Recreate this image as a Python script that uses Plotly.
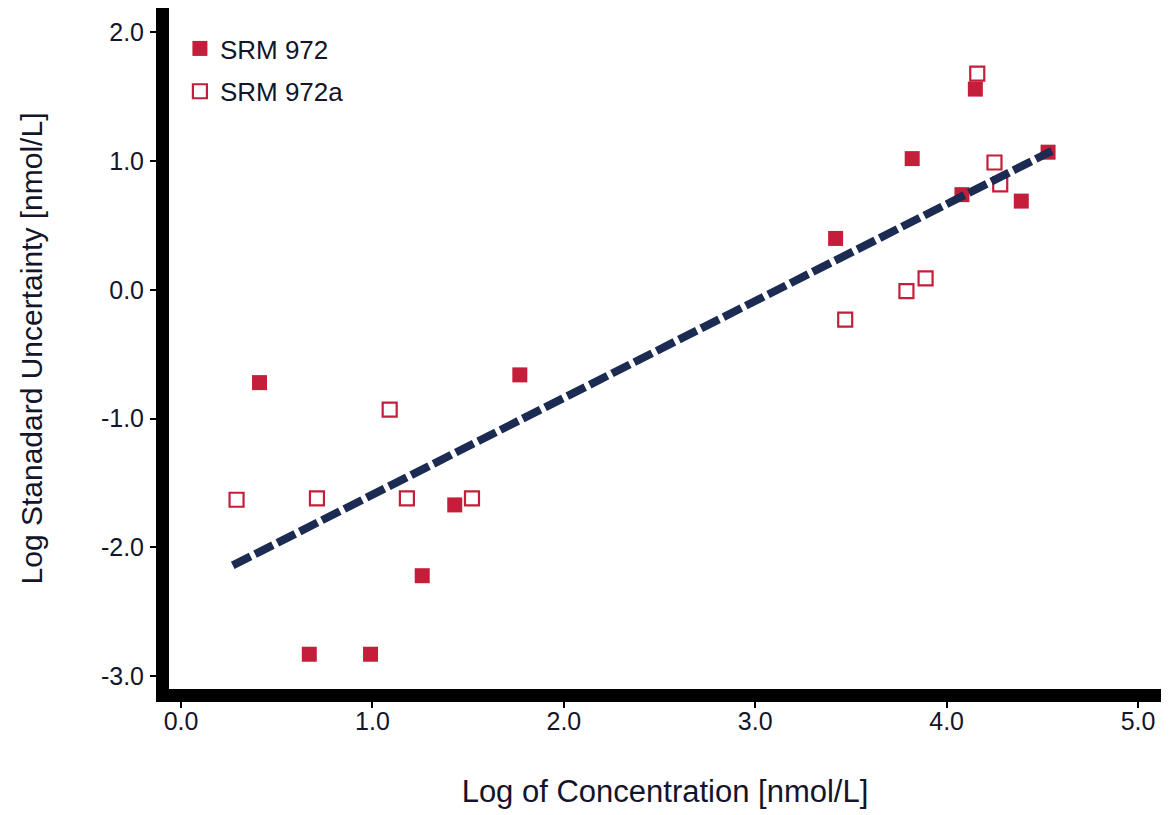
import plotly.graph_objects as go

# SRM 972 (filled)
srm972_x = [0.41, 0.67, 0.99, 1.26, 1.43, 1.77, 3.42, 3.82, 4.08, 4.15, 4.39, 4.53]
srm972_y = [-0.72, -2.83, -2.83, -2.22, -1.67, -0.66, 0.40, 1.02, 0.74, 1.56, 0.69, 1.07]

# SRM 972a (open)
srm972a_x = [0.29, 0.71, 1.09, 1.18, 1.52, 3.47, 3.79, 3.89, 4.16, 4.25, 4.28]
srm972a_y = [-1.63, -1.62, -0.93, -1.62, -1.62, -0.23, -0.01, 0.09, 1.68, 0.99, 0.82]

# Trend line end points
trend_x = [0.27, 4.55]
trend_y = [-2.14, 1.08]

x_ticks = [0.0, 1.0, 2.0, 3.0, 4.0, 5.0]
x_ticktext = ["0.0", "1.0", "2.0", "3.0", "4.0", "5.0"]
y_ticks = [-3.0, -2.0, -1.0, 0.0, 1.0, 2.0]
y_ticktext = ["-3.0", "-2.0", "-1.0", "0.0", "1.0", "2.0"]

red = "#c41e3a"
navy = "#1c2b52"
txt = "#14142a"
font_fam = "Liberation Sans, Arial, sans-serif"

fig = go.Figure()
fig.add_trace(go.Scatter(x=srm972_x, y=srm972_y, mode="markers", name="SRM 972",
                         legendgroup="a",
                         marker=dict(symbol="square", size=15, color=red,
                                     line=dict(width=0))))
fig.add_trace(go.Scatter(x=srm972a_x, y=srm972a_y, mode="markers", name="SRM 972a",
                         legendgroup="b",
                         marker=dict(symbol="square-open", size=14, color=red,
                                     line=dict(width=2.2, color=red))))
fig.add_trace(go.Scatter(x=trend_x, y=trend_y, mode="lines", showlegend=False,
                         line=dict(color=navy, width=8, dash="20px,5px")))

fig.update_layout(
    width=1173, height=815,
    margin=dict(l=161, r=20, t=0, b=134),
    paper_bgcolor="white", plot_bgcolor="white",
    font=dict(family=font_fam, size=24, color=txt),
    showlegend=True,
    legend=dict(x=0.011, y=0.975, xanchor="left", yanchor="top",
                bgcolor="rgba(0,0,0,0)", font=dict(size=26, color=txt),
                itemsizing="trace", tracegroupgap=6),
    xaxis=dict(range=[-0.063, 5.12], tickvals=x_ticks, ticktext=x_ticktext,
               showgrid=False, zeroline=False, showline=True, linecolor="black",
               linewidth=13, ticks="outside", ticklen=6, tickwidth=2, tickcolor="black",
               ticklabelstandoff=-8,
               tickfont=dict(size=25, color=txt),
               title=dict(text="Log of Concentration [nmol/L]", standoff=52,
                          font=dict(size=31, color=txt))),
    yaxis=dict(range=[-3.10, 2.19], tickvals=y_ticks, ticktext=y_ticktext,
               showgrid=False, zeroline=False, showline=True, linecolor="black",
               linewidth=13, ticks="outside", ticklen=6, tickwidth=2, tickcolor="black",
               ticklabelstandoff=1,
               tickfont=dict(size=25, color=txt),
               title=dict(text="Log Stanadard Uncertainty [nmol/L]", standoff=55,
                          font=dict(size=30, color=txt))),
)

fig.write_html("out.html")
